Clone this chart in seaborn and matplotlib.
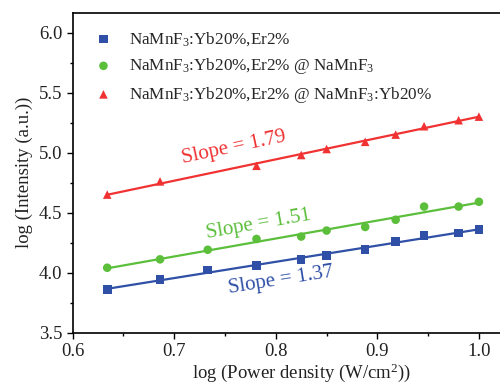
import numpy as np
import pandas as pd

import matplotlib.pyplot as plt
import seaborn as sns

# data
power = [0.634, 0.686, 0.733, 0.781, 0.825, 0.850, 0.888, 0.918, 0.946, 0.980, 1.000]
core = [3.86, 3.94, 4.02, 4.06, 4.11, 4.14, 4.19, 4.26, 4.31, 4.33, 4.36]
shell_mn = [4.04, 4.11, 4.19, 4.28, 4.30, 4.35, 4.38, 4.44, 4.55, 4.55, 4.59]
shell_yb = [4.65, 4.76, np.nan, 4.89, 4.98, 5.03, 5.09, 5.15, 5.22, 5.27, 5.30]

labels = ["NaMnF$_3$:Yb20%,Er2%",
          "NaMnF$_3$:Yb20%,Er2% @ NaMnF$_3$",
          "NaMnF$_3$:Yb20%,Er2% @ NaMnF$_3$:Yb20%"]
slope_text = ["Slope = 1.37", "Slope = 1.51", "Slope = 1.79"]
colors = ["#2f50a6", "#5cbf3c", "#f03232"]
markers = ["s", "o", "^"]

# plot setup
sns.set_style("ticks")
plt.rcParams["font.family"] = ["Liberation Serif", "DejaVu Serif"]
plt.rcParams["mathtext.fontset"] = "custom"
plt.rcParams["mathtext.rm"] = "Liberation Serif"
plt.rcParams["mathtext.it"] = "Liberation Serif:italic"

fig = plt.figure(figsize=(5, 3.86), dpi=100)
ax = fig.add_axes([0.1454, 0.1386, 0.914, 0.8277])

df = pd.DataFrame({"x": power, "a": core, "b": shell_mn, "c": shell_yb})

for col, lab, c, m in zip(["a", "b", "c"], labels, colors, markers):
    d = df.dropna(subset=[col])
    k, b = np.polyfit(d["x"], d[col], 1)
    sns.lineplot(x=d["x"], y=k * d["x"] + b, color=c, lw=1.6, ax=ax)
    sns.scatterplot(x=d["x"], y=d[col], marker=m, color=c, s=38,
                    edgecolor="none", label=lab, ax=ax)

# slope annotations
ax.text(0.805, 3.935, slope_text[0], color=colors[0], fontsize=15,
        rotation=9, ha="center", va="center")
ax.text(0.783, 4.40, slope_text[1], color=colors[1], fontsize=15,
        rotation=10, ha="center", va="center")
ax.text(0.759, 5.04, slope_text[2], color=colors[2], fontsize=15,
        rotation=12, ha="center", va="center")

ax.set_xlim(0.6, 1.05)
ax.set_ylim(3.5, 6.164)
ax.set_xticks([0.6, 0.7, 0.8, 0.9, 1.0])
ax.set_xticks([0.65, 0.75, 0.85, 0.95], minor=True)
ax.set_yticks([3.5, 4.0, 4.5, 5.0, 5.5, 6.0])
ax.set_yticks([3.75, 4.25, 4.75, 5.25, 5.75], minor=True)
ax.tick_params(which="major", direction="out", length=4, width=1,
               labelsize=13.5, color="black", labelcolor="#222222")
ax.tick_params(which="minor", direction="out", length=2.5, width=1, color="black")
for s in ax.spines.values():
    s.set_linewidth(1.2)
    s.set_color("black")

ax.set_xlabel("log (Power density (W/cm$^2$))", fontsize=13.5, color="#222222",
              labelpad=1)
ax.set_ylabel("log (Intensity (a.u.))", fontsize=13.5, color="#222222")

ax.legend(loc="upper left", bbox_to_anchor=(0.0, 0.995), frameon=False,
          fontsize=12.3, handletextpad=0.6, labelspacing=0.5, borderpad=0.4,
          handlelength=1.8)

plt.savefig("out.png", dpi=100)
